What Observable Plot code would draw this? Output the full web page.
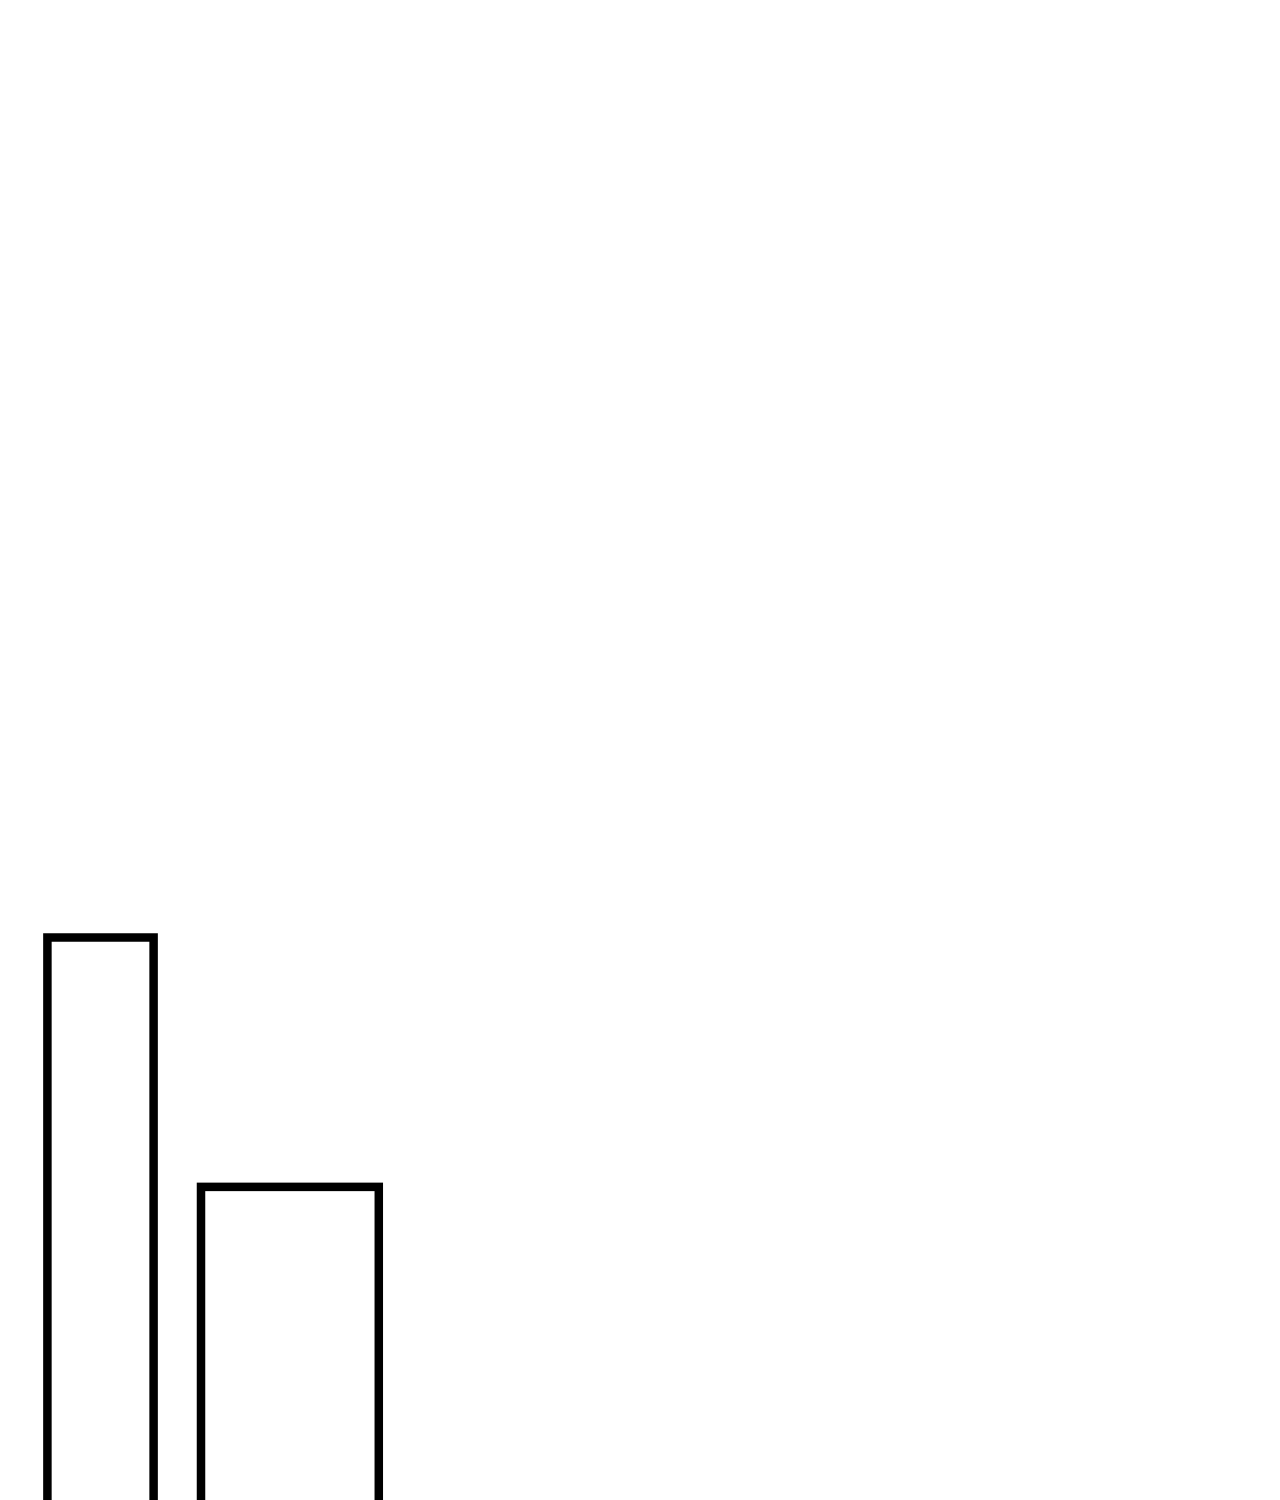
<!DOCTYPE html>
<html>
<head>
<meta charset="utf-8">
<script src="https://cdn.jsdelivr.net/npm/d3@7"></script>
<script src="https://cdn.jsdelivr.net/npm/@observablehq/plot@0.6"></script>
<style>
  html, body { margin: 0; padding: 0; background: #fff; overflow: hidden; }
  #chart svg { display: block; }
</style>
</head>
<body>
<div id="chart"></div>
<script>
// Bin edges (x units) and bar values (y units)
const binStart = [1.0, 4.24];
const binEnd = [3.24, 7.99];
const values = [50, 36.7];

const data = binStart.map((s, i) => ({ x1: s, x2: binEnd[i], y: values[i] }));

const chart = Plot.plot({
  width: 1280,
  height: 1500,
  marginTop: 0,
  marginRight: 0,
  marginBottom: 0,
  marginLeft: 0,
  x: { domain: [0, 27], axis: null },
  y: { domain: [20, 100], axis: null },
  style: { background: "white" },
  marks: [
    Plot.rect(data, {
      x1: "x1",
      x2: "x2",
      y1: 0,
      y2: "y",
      fill: "white",
      stroke: "black",
      strokeWidth: 8.5,
      clip: true
    })
  ]
});
document.getElementById("chart").append(chart);
</script>
</body>
</html>
